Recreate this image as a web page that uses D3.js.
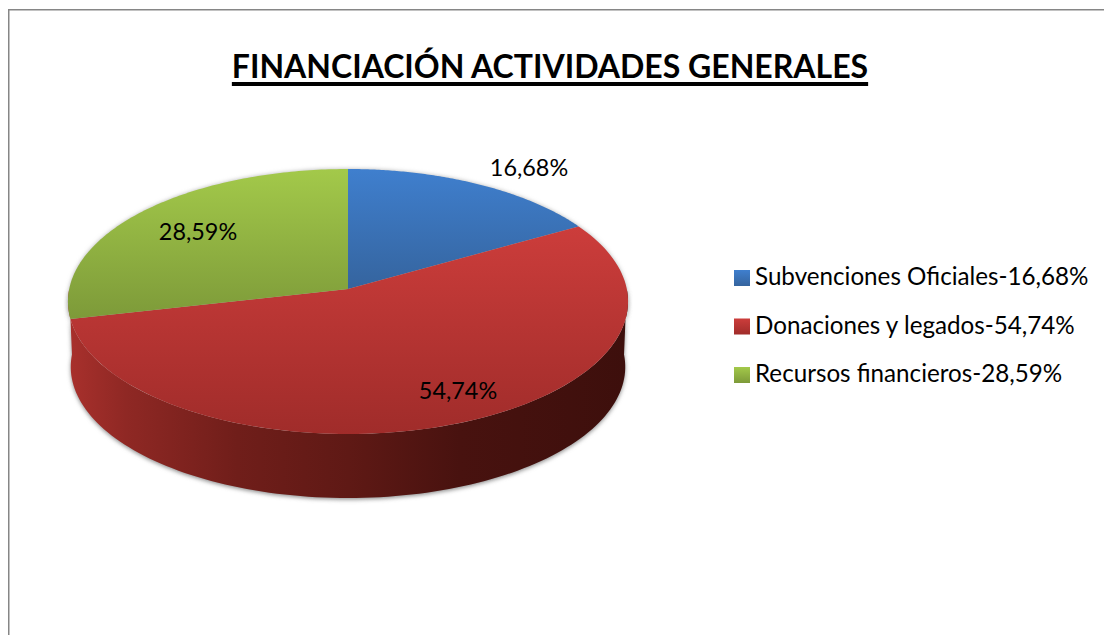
<!DOCTYPE html>
<html>
	<head>
		<meta content="text/html;charset=utf-8" http-equiv="Content-Type">
		<title>Financiación actividades generales</title>
		<script src="https://d3js.org/d3.v7.min.js"></script>
		<style>
			html, body { margin: 0; padding: 0; background: #fff; overflow: hidden; }
			svg { display: block; }
			text { font-family: Lato, "Open Sans", sans-serif; fill: #000; }
		</style>
	</head>
	<body>
		<svg id="chart" width="1104" height="635"></svg>
		<script>
			var titleText = 'FINANCIACIÓN ACTIVIDADES GENERALES',
				categories = ['Subvenciones Oficiales', 'Donaciones y legados', 'Recursos financieros'],
				values = [16.68, 54.74, 28.59],
				valueLabels = ['16,68%', '54,74%', '28,59%'];

			var topColors = ['#3f7fce', '#cc3d3b', '#a3c94a'],
				bottomColors = ['#35649e', '#a02c2a', '#7d9a39'];

			var svg = d3.select('#chart'),
				defs = svg.append('defs');

			// the pie is a tilted disc: circle point -> screen through a small perspective
			var cx = 348, cy = 289, rx = 278.8, ry = 131.3, persp = 0.0943;
			var wallDrop = 65.5, wallScale = 0.99;

			function project(angle, scale, drop) {
				var u = Math.sin(angle),
					v = -Math.cos(angle),
					w = 1 - persp * v;
				return [cx + scale * rx * u / w, cy + (drop || 0) + scale * ry * v / w];
			}

			function arcPoints(a0, a1, scale, drop) {
				return d3.range(0, 121).map(function(i) {
					return project(a0 + (a1 - a0) * i / 120, scale, drop);
				});
			}

			var line = d3.line();

			var slices = d3.pie().sort(null)(values);
			// the three shares add up to a bit over 100, d3.pie normalises them

			// vertical shading of the top faces
			slices.forEach(function(s, i) {
				var pts = arcPoints(s.startAngle, s.endAngle, 1).concat([[cx, cy]]),
					ys = d3.extent(pts, function(p) { return p[1]; }),
					g = defs.append('linearGradient')
						.attr('id', 'face' + i)
						.attr('gradientUnits', 'userSpaceOnUse')
						.attr('x1', 0).attr('x2', 0)
						.attr('y1', ys[0]).attr('y2', ys[1]);
				g.append('stop').attr('offset', 0).attr('stop-color', topColors[i]);
				g.append('stop').attr('offset', 1).attr('stop-color', bottomColors[i]);

				var sw = defs.append('linearGradient')
					.attr('id', 'swatch' + i)
					.attr('x1', 0).attr('x2', 0).attr('y1', 0).attr('y2', 1);
				sw.append('stop').attr('offset', 0).attr('stop-color', topColors[i]);
				sw.append('stop').attr('offset', 1).attr('stop-color', bottomColors[i]);
			});

			// side wall, light on the left going almost black on the right
			var wallGrad = defs.append('linearGradient')
				.attr('id', 'wall')
				.attr('gradientUnits', 'userSpaceOnUse')
				.attr('x1', 70).attr('x2', 628).attr('y1', 0).attr('y2', 0);
			[[0, '#a8302c'], [0.1, '#8f2824'], [0.3, '#701e1a'], [0.5, '#5f1915'], [0.7, '#48120f'], [1, '#3d0f0c']].forEach(function(d) {
				wallGrad.append('stop').attr('offset', d[0]).attr('stop-color', d[1]);
			});

			var blur = defs.append('filter')
				.attr('id', 'soft')
				.attr('x', '-5%').attr('y', '-5%').attr('width', '110%').attr('height', '110%');
			blur.append('feGaussianBlur').attr('stdDeviation', 2.2);

			// frame, only top and left show
			svg.append('path')
				.attr('d', 'M8.75,635V9.75H1104')
				.attr('fill', 'none')
				.attr('stroke', '#868686')
				.attr('stroke-width', 1.5);

			var wallPts = arcPoints(Math.PI / 2, Math.PI * 1.5, 1)
				.concat(arcPoints(Math.PI * 1.5, Math.PI / 2, wallScale, wallDrop));

			// soft shadow round the whole disc
			svg.append('path')
				.attr('d', line(wallPts) + 'Z')
				.attr('fill', '#8c8c8c')
				.attr('filter', 'url(#soft)')
				.attr('transform', 'translate(0,1.5)');
			svg.append('path')
				.attr('d', line(arcPoints(0, Math.PI * 2, 1)) + 'Z')
				.attr('fill', '#b5b5b5')
				.attr('filter', 'url(#soft)');

			svg.append('path')
				.attr('d', line(wallPts) + 'Z')
				.attr('fill', 'url(#wall)');

			svg.selectAll('path.face')
				.data(slices)
				.enter()
				.append('path')
				.attr('class', 'face')
				.attr('d', function(s) {
					return line(arcPoints(s.startAngle, s.endAngle, 1).concat([[cx, cy]])) + 'Z';
				})
				.attr('fill', function(s, i) { return 'url(#face' + i + ')'; });

			// data labels
			var labelAt = [[529, 176], [458, 399], [198, 240]];
			svg.selectAll('text.value')
				.data(valueLabels)
				.enter()
				.append('text')
				.attr('class', 'value')
				.attr('x', function(d, i) { return labelAt[i][0]; })
				.attr('y', function(d, i) { return labelAt[i][1]; })
				.attr('text-anchor', 'middle')
				.attr('font-size', 23.4)
				.text(function(d) { return d; });

			// title
			var title = svg.append('text')
				.attr('x', 550)
				.attr('y', 78)
				.attr('text-anchor', 'middle')
				.attr('font-size', 32)
				.attr('font-weight', 700)
				.text(titleText);
			var tw = title.node().getComputedTextLength();
			svg.append('rect')
				.attr('x', 550 - tw / 2)
				.attr('y', 82)
				.attr('width', tw)
				.attr('height', 4)
				.attr('fill', '#000');

			// legend
			var legendY = d3.scalePoint().domain(categories).range([285, 382]);
			var legend = svg.selectAll('g.legend')
				.data(categories)
				.enter()
				.append('g')
				.attr('class', 'legend')
				.attr('transform', function(d) { return 'translate(0,' + legendY(d) + ')'; });
			legend.append('rect')
				.attr('x', 734)
				.attr('y', -15)
				.attr('width', 16)
				.attr('height', 16)
				.attr('fill', function(d, i) { return 'url(#swatch' + i + ')'; });
			legend.append('text')
				.attr('x', 755)
				.attr('y', 0)
				.attr('font-size', 24.2)
				.text(function(d, i) { return d + '-' + valueLabels[i]; });
		</script>
	</body>
</html>
